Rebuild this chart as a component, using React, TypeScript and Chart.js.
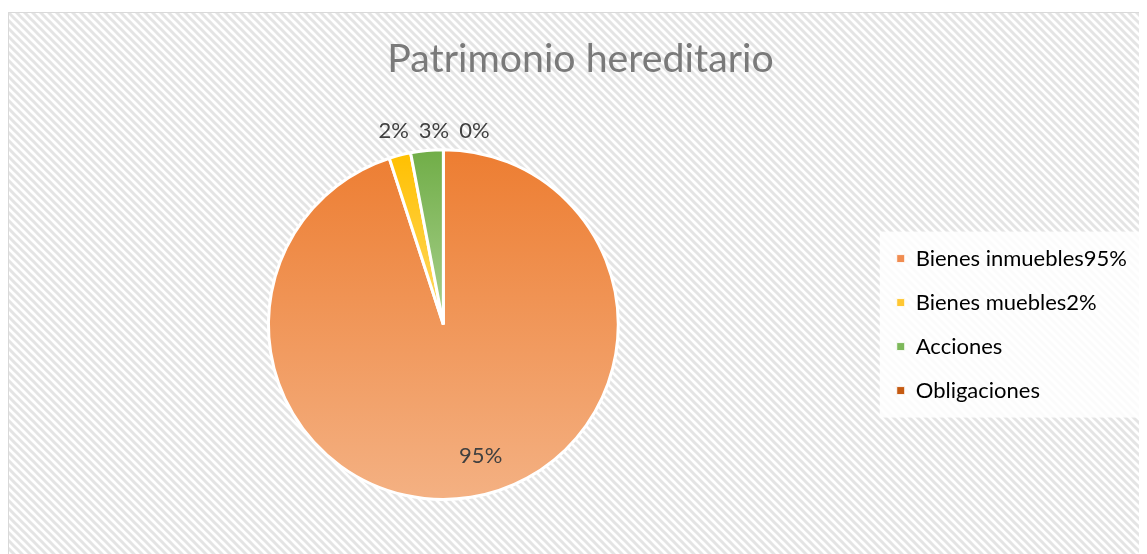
import React, { useEffect, useRef } from "react";
import { Chart, registerables } from "chart.js";

Chart.register(...registerables);

const TITLE = "Patrimonio hereditario";
const categories = ["Bienes inmuebles95%", "Bienes muebles2%", "Acciones", "Obligaciones"];
const values = [95, 2, 3, 0];
const topColors = ["#ED7D31", "#FFC000", "#70AD47", "#C55A11"];
const bottomColors = ["#F4B183", "#FFD966", "#A9D18E", "#C55A11"];
const legendColors = ["#F08C50", "#FFC732", "#7DB85A", "#C55A11"];

const FONT = "Lato, 'Open Sans', sans-serif";

function makePattern(): CanvasPattern | string {
  const c = document.createElement("canvas");
  c.width = 8;
  c.height = 8;
  const g = c.getContext("2d");
  if (!g) return "#fff";
  g.fillStyle = "#ffffff";
  g.fillRect(0, 0, 8, 8);
  g.strokeStyle = "#e4e4e4";
  g.lineWidth = 3;
  for (let k = -1; k <= 1; k++) {
    g.beginPath();
    g.moveTo(-2, -2 + k * 8);
    g.lineTo(10, 10 + k * 8);
    g.stroke();
  }
  const p = g.createPattern(c, "repeat");
  return p || "#fff";
}

function sliceExtent(cx: number, cy: number, r: number, a0: number, a1: number) {
  let minY = cy;
  let maxY = cy;
  const steps = 60;
  for (let s = 0; s <= steps; s++) {
    const a = a0 + ((a1 - a0) * s) / steps;
    const y = cy + Math.sin(a) * r;
    minY = Math.min(minY, y);
    maxY = Math.max(maxY, y);
  }
  return [minY, maxY];
}

const titleShiftPlugin = {
  id: "titleShift",
  afterLayout(chart: any) {
    const t = chart.titleBlock;
    if (t) {
      t.left += 6;
      t.right += 6;
    }
  },
};

const bgPlugin = {
  id: "bgPattern",
  beforeDraw(chart: any) {
    const ctx = chart.ctx;
    ctx.save();
    ctx.fillStyle = makePattern();
    ctx.fillRect(0, 0, chart.width, chart.height);
    ctx.strokeStyle = "#d9d9d9";
    ctx.lineWidth = 1;
    ctx.beginPath();
    ctx.moveTo(0.5, chart.height);
    ctx.lineTo(0.5, 0.5);
    ctx.lineTo(chart.width, 0.5);
    ctx.stroke();
    const lg = chart.legend;
    if (lg && lg.legendHitBoxes.length) {
      const hb = lg.legendHitBoxes;
      const first = hb[0];
      const last = hb[hb.length - 1];
      const top = first.top - 16;
      const bottom = last.top + last.height + 16;
      const left = first.left - 17;
      ctx.fillStyle = "rgba(255,255,255,0.85)";
      ctx.fillRect(left, top, chart.width - left, bottom - top);
    }
    ctx.restore();
  },
};

const labelPlugin = {
  id: "pctLabels",
  afterDatasetsDraw(chart: any) {
    const ctx = chart.ctx;
    const meta = chart.getDatasetMeta(0);
    const total = values.reduce((a, b) => a + b, 0);
    ctx.save();
    ctx.font = `22px ${FONT}`;
    ctx.fillStyle = "#404040";
    ctx.textAlign = "center";
    ctx.textBaseline = "middle";
    const outside: { x: number; y: number; text: string; w: number }[] = [];
    meta.data.forEach((arc: any, i: number) => {
      const p = arc.getProps(["x", "y", "startAngle", "endAngle", "outerRadius"], true);
      const mid = (p.startAngle + p.endAngle) / 2;
      const frac = values[i] / total;
      const text = Math.round(frac * 100) + "%";
      if (frac > 0.1) {
        const r = p.outerRadius * 0.78;
        ctx.fillText(text, p.x + Math.cos(mid - 0.12) * r, p.y + Math.sin(mid - 0.12) * r);
      } else {
        const r = p.outerRadius + 25;
        outside.push({
          x: p.x + Math.cos(mid) * r,
          y: p.y + Math.sin(mid) * r,
          text,
          w: ctx.measureText(text).width,
        });
      }
    });
    outside.sort((a, b) => a.x - b.x);
    for (let i = 1; i < outside.length; i++) {
      const prev = outside[i - 1];
      const cur = outside[i];
      const minX = prev.x + prev.w / 2 + 10 + cur.w / 2;
      if (cur.x < minX) cur.x = minX;
    }
    const yAvg = outside.length ? Math.max(...outside.map((o) => o.y)) : 0;
    outside.forEach((o) => ctx.fillText(o.text, o.x, yAvg));
    ctx.restore();
  },
};

export default function App() {
  const ref = useRef<HTMLCanvasElement>(null);
  useEffect(() => {
    if (!ref.current) return;
    const chart = new Chart(ref.current, {
      type: "pie",
      data: {
        labels: categories,
        datasets: [
          {
            data: values,
            borderColor: "#ffffff",
            borderWidth: 3,
            backgroundColor: (c: any) => {
              const ch = c.chart;
              const area = ch.chartArea;
              const i = c.dataIndex;
              if (!area || i === undefined) return topColors[i ?? 0];
              const cx = (area.left + area.right) / 2;
              const cy = (area.top + area.bottom) / 2;
              const r = Math.min(area.right - area.left, area.bottom - area.top) / 2;
              const total = values.reduce((a, b) => a + b, 0);
              let acc = 0;
              for (let k = 0; k < i; k++) acc += values[k];
              const a0 = -Math.PI / 2 + (acc / total) * 2 * Math.PI;
              const a1 = a0 + (values[i] / total) * 2 * Math.PI;
              const [y0, y1] = sliceExtent(cx, cy, r, a0, a1);
              if (y1 - y0 < 1) return topColors[i];
              const g = ch.ctx.createLinearGradient(0, y0, 0, y1);
              g.addColorStop(0, topColors[i]);
              g.addColorStop(1, bottomColors[i]);
              return g;
            },
          },
        ],
      },
      options: {
        animation: false,
        responsive: false,
        layout: { padding: { left: 4, top: 20, bottom: 53, right: 10 } },
        plugins: {
          title: {
            display: true,
            text: TITLE,
            color: "#7a7a7a",
            font: { family: FONT, size: 39.3, weight: "normal" },
            padding: { top: 4, bottom: 65 },
          },
          legend: {
            position: "right",
            align: "center",
            fullSize: false,
            labels: {
              boxWidth: 8,
              boxHeight: 8,
              padding: 22,
              color: "#595959",
              font: { family: FONT, size: 22 },
              generateLabels: () =>
                categories.map((t, i) => ({
                  text: t,
                  fillStyle: legendColors[i],
                  strokeStyle: "rgba(255,255,255,0.9)",
                  lineWidth: 1,
                  hidden: false,
                  index: i,
                })),
            },
          },
          tooltip: { enabled: false },
        },
      },
      plugins: [titleShiftPlugin, bgPlugin, labelPlugin],
    });
    return () => chart.destroy();
  }, []);
  return (
    <div style={{ marginTop: 4 }}>
      <canvas ref={ref} width={1139} height={542} style={{ display: "block" }} />
    </div>
  );
}
